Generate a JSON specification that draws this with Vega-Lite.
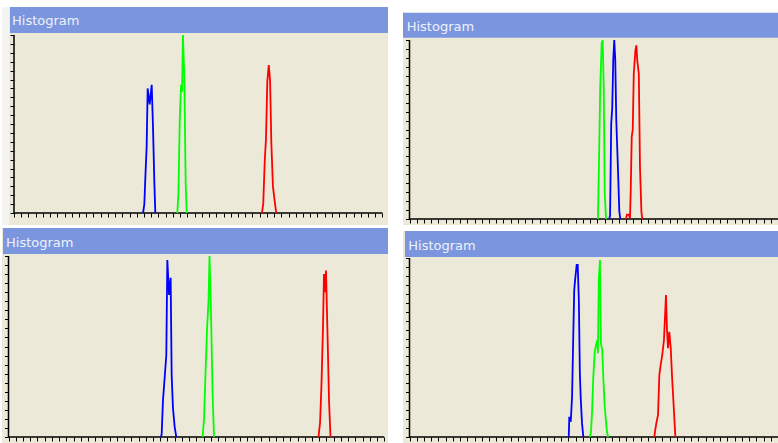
{
 "$schema": "https://vega.github.io/schema/vega-lite/v6.json",
 "background": "#ffffff",
 "padding": {"left": 2, "top": 7, "right": 0, "bottom": 0},
 "config": {"view": {"stroke": null}},
 "datasets": {
  "label": [{"title": "Histogram"}],
  "one": [{}],
  "hist": [
   {"p":"TL","c":"blue","x":89.3,"y":0},{"p":"TL","c":"blue","x":90.2,"y":5},{"p":"TL","c":"blue","x":91.1,"y":24},{"p":"TL","c":"blue","x":91.8,"y":37},{"p":"TL","c":"blue","x":92.5,"y":70},{"p":"TL","c":"blue","x":93.9,"y":61},{"p":"TL","c":"blue","x":95.3,"y":72},{"p":"TL","c":"blue","x":96.2,"y":48},{"p":"TL","c":"blue","x":97.1,"y":18},{"p":"TL","c":"blue","x":97.8,"y":0},
   {"p":"TL","c":"green","x":113.0,"y":0},{"p":"TL","c":"green","x":113.8,"y":11},{"p":"TL","c":"green","x":114.7,"y":52},{"p":"TL","c":"green","x":115.6,"y":72},{"p":"TL","c":"green","x":116.3,"y":68},{"p":"TL","c":"green","x":116.9,"y":100},{"p":"TL","c":"green","x":117.9,"y":76},{"p":"TL","c":"green","x":118.8,"y":17},{"p":"TL","c":"green","x":119.5,"y":0},
   {"p":"TL","c":"red","x":171.6,"y":0},{"p":"TL","c":"red","x":172.5,"y":5.4},{"p":"TL","c":"red","x":173.5,"y":28.8},{"p":"TL","c":"red","x":174.4,"y":42},{"p":"TL","c":"red","x":175.3,"y":73.8},{"p":"TL","c":"red","x":176.3,"y":83.1},{"p":"TL","c":"red","x":177.2,"y":74.7},{"p":"TL","c":"red","x":178.1,"y":39.1},{"p":"TL","c":"red","x":179.2,"y":14.8},{"p":"TL","c":"red","x":180.6,"y":5.4},{"p":"TL","c":"red","x":181.5,"y":0},
   {"p":"TR","c":"green","x":130.4,"y":0},{"p":"TR","c":"green","x":131.1,"y":30.2},{"p":"TR","c":"green","x":132.0,"y":73.9},{"p":"TR","c":"green","x":133.0,"y":98.1},{"p":"TR","c":"green","x":133.7,"y":100},{"p":"TR","c":"green","x":134.4,"y":73.9},{"p":"TR","c":"green","x":135.1,"y":14.4},{"p":"TR","c":"green","x":136.0,"y":0},
   {"p":"TR","c":"blue","x":138.3,"y":0},{"p":"TR","c":"blue","x":138.8,"y":2.2},{"p":"TR","c":"blue","x":139.6,"y":53.4},{"p":"TR","c":"blue","x":140.3,"y":61.8},{"p":"TR","c":"blue","x":141.0,"y":88.8},{"p":"TR","c":"blue","x":141.7,"y":100},{"p":"TR","c":"blue","x":142.4,"y":88.8},{"p":"TR","c":"blue","x":143.1,"y":55.3},{"p":"TR","c":"blue","x":144.4,"y":24.6},{"p":"TR","c":"blue","x":145.2,"y":4.1},{"p":"TR","c":"blue","x":145.9,"y":0},
   {"p":"TR","c":"red","x":149.8,"y":0},{"p":"TR","c":"red","x":150.5,"y":2.5},{"p":"TR","c":"red","x":151.7,"y":2.5},{"p":"TR","c":"red","x":152.6,"y":0.5},{"p":"TR","c":"red","x":153.1,"y":16},{"p":"TR","c":"red","x":153.8,"y":46},{"p":"TR","c":"red","x":154.5,"y":50},{"p":"TR","c":"red","x":155.2,"y":81},{"p":"TR","c":"red","x":156.3,"y":94},{"p":"TR","c":"red","x":157.0,"y":97},{"p":"TR","c":"red","x":157.7,"y":88},{"p":"TR","c":"red","x":158.7,"y":81},{"p":"TR","c":"red","x":159.5,"y":29},{"p":"TR","c":"red","x":160.5,"y":4},{"p":"TR","c":"red","x":161.1,"y":0},
   {"p":"BL","c":"blue","x":105.5,"y":0},{"p":"BL","c":"blue","x":106.0,"y":1.7},{"p":"BL","c":"blue","x":106.9,"y":20.4},{"p":"BL","c":"blue","x":108.1,"y":33.3},{"p":"BL","c":"blue","x":109.2,"y":45.3},{"p":"BL","c":"blue","x":109.9,"y":97.8},{"p":"BL","c":"blue","x":111.1,"y":78.5},{"p":"BL","c":"blue","x":112.2,"y":88},{"p":"BL","c":"blue","x":112.9,"y":34.3},{"p":"BL","c":"blue","x":113.8,"y":16},{"p":"BL","c":"blue","x":115.0,"y":5.5},{"p":"BL","c":"blue","x":116.1,"y":0},
   {"p":"BL","c":"green","x":134.3,"y":0},{"p":"BL","c":"green","x":135.3,"y":10},{"p":"BL","c":"green","x":136.3,"y":35},{"p":"BL","c":"green","x":137.4,"y":60},{"p":"BL","c":"green","x":138.4,"y":75},{"p":"BL","c":"green","x":139.1,"y":100},{"p":"BL","c":"green","x":140.1,"y":70},{"p":"BL","c":"green","x":141.2,"y":25},{"p":"BL","c":"green","x":142.2,"y":0},
   {"p":"BL","c":"red","x":214.5,"y":0},{"p":"BL","c":"red","x":215.6,"y":8},{"p":"BL","c":"red","x":216.6,"y":30},{"p":"BL","c":"red","x":217.6,"y":60},{"p":"BL","c":"red","x":218.3,"y":90},{"p":"BL","c":"red","x":219.0,"y":80},{"p":"BL","c":"red","x":219.7,"y":92},{"p":"BL","c":"red","x":220.8,"y":55},{"p":"BL","c":"red","x":221.8,"y":20},{"p":"BL","c":"red","x":222.8,"y":0},
   {"p":"BR","c":"blue","x":110.2,"y":0},{"p":"BR","c":"blue","x":110.6,"y":11.3},{"p":"BR","c":"blue","x":111.6,"y":8.5},{"p":"BR","c":"blue","x":112.5,"y":22.5},{"p":"BR","c":"blue","x":113.3,"y":55.1},{"p":"BR","c":"blue","x":114.0,"y":82.1},{"p":"BR","c":"blue","x":114.7,"y":88.6},{"p":"BR","c":"blue","x":115.7,"y":96.1},{"p":"BR","c":"blue","x":116.4,"y":96.1},{"p":"BR","c":"blue","x":117.2,"y":76.5},{"p":"BR","c":"blue","x":117.9,"y":35.6},{"p":"BR","c":"blue","x":118.5,"y":21.6},{"p":"BR","c":"blue","x":119.4,"y":7.6},{"p":"BR","c":"blue","x":120.3,"y":0},
   {"p":"BR","c":"green","x":124.9,"y":0},{"p":"BR","c":"green","x":125.6,"y":3},{"p":"BR","c":"green","x":126.3,"y":13.2},{"p":"BR","c":"green","x":127.2,"y":33.7},{"p":"BR","c":"green","x":128.2,"y":47.7},{"p":"BR","c":"green","x":129.1,"y":51.4},{"p":"BR","c":"green","x":130.0,"y":54.2},{"p":"BR","c":"green","x":130.4,"y":46.8},{"p":"BR","c":"green","x":131.0,"y":87.7},{"p":"BR","c":"green","x":131.8,"y":98.9},{"p":"BR","c":"green","x":132.5,"y":52.3},{"p":"BR","c":"green","x":133.4,"y":48.6},{"p":"BR","c":"green","x":134.1,"y":33.7},{"p":"BR","c":"green","x":135.1,"y":16.9},{"p":"BR","c":"green","x":136.5,"y":3.9},{"p":"BR","c":"green","x":137.4,"y":0},
   {"p":"BR","c":"red","x":169.4,"y":0},{"p":"BR","c":"red","x":169.9,"y":3},{"p":"BR","c":"red","x":170.8,"y":7.6},{"p":"BR","c":"red","x":172.0,"y":12.3},{"p":"BR","c":"red","x":172.9,"y":34.6},{"p":"BR","c":"red","x":173.8,"y":40.2},{"p":"BR","c":"red","x":174.9,"y":45.8},{"p":"BR","c":"red","x":176.1,"y":54.2},{"p":"BR","c":"red","x":177.5,"y":79.3},{"p":"BR","c":"red","x":178.2,"y":59.8},{"p":"BR","c":"red","x":178.9,"y":49.6},{"p":"BR","c":"red","x":179.8,"y":58.8},{"p":"BR","c":"red","x":180.8,"y":49.6},{"p":"BR","c":"red","x":181.7,"y":33.7},{"p":"BR","c":"red","x":182.6,"y":20.7},{"p":"BR","c":"red","x":183.6,"y":5.8},{"p":"BR","c":"red","x":184.0,"y":0}
  ]
 },
 "spacing": 15,
 "hconcat": [
  {
   "spacing": 3,
   "vconcat": [
    {
     "width": 386, "height": 218,
     "view": {"fill": "#ece9d8", "stroke": null},
     "encoding": {
      "x": {"type": "quantitative", "scale": {"domain": [-8.3, 258.82], "nice": false, "zero": false},
       "axis": {"orient": "bottom", "offset": -12, "values": [0,5,10,15,20,25,30,35,40,45,50,55,60,65,70,75,80,85,90,95,100,105,110,115,120,125,130,135,140,145,150,155,160,165,170,175,180,185,190,195,200,205,210,215,220,225,230,235,240,245,250,255], "labels": false, "title": null, "domain": false, "grid": false, "ticks": true, "tickColor": "#000000", "tickWidth": 1, "tickSize": 4, "encode": {"ticks": {"update": {"y2": {"signal": "datum.value % 10 === 0 ? 4 : 2"}}}}}},
      "y": {"type": "quantitative", "scale": {"domain": [-6.74, 115.73], "nice": false, "zero": false},
       "axis": {"orient": "left", "offset": -12, "values": [0,5,10,15,20,25,30,35,40,45,50,55,60,65,70,75,80,85,90,95,100], "labels": false, "title": null, "domain": false, "grid": false, "ticks": true, "tickColor": "#000000", "tickWidth": 1, "tickSize": 4, "encode": {"ticks": {"update": {"x2": {"signal": "datum.value % 10 === 0 ? -4 : -2"}}}}}}
     },
     "layer": [
      {"data": {"name": "one"}, "mark": {"type": "rect", "color": "#f4f4f0"},
       "encoding": {"x": {"datum": -8.3}, "x2": {"datum": -3.3}, "y": {"datum": -6.74}, "y2": {"datum": 115.73}}},
      {"data": {"name": "one"}, "mark": {"type": "rect", "color": "#7b96de"},
       "encoding": {"x": {"datum": -2.77}, "x2": {"datum": 258.82}, "y": {"datum": 101.12}, "y2": {"datum": 115.73}}},
      {"data": {"name": "label"}, "mark": {"type": "text", "align": "left", "baseline": "alphabetic", "font": "DejaVu Sans", "fontSize": 13, "color": "#eef2fb", "dx": 2},
       "encoding": {"text": {"field": "title"}, "x": {"datum": -2.77}, "y": {"datum": 105.6}}},
      {"data": {"name": "one"}, "mark": {"type": "rule", "color": "#000000", "strokeWidth": 1.5},
       "encoding": {"x": {"datum": 0}, "x2": {"datum": 255}, "y": {"datum": 0}}},
      {"data": {"name": "one"}, "mark": {"type": "rule", "color": "#000000", "strokeWidth": 1.5},
       "encoding": {"x": {"datum": 0}, "y": {"datum": 0}, "y2": {"datum": 100}}},
      {"data": {"name": "hist"}, "transform": [{"filter": "datum.p === 'TL'"}],
       "mark": {"type": "line", "strokeWidth": 1.8},
       "encoding": {"x": {"field": "x"}, "y": {"field": "y"},
        "color": {"field": "c", "type": "nominal", "scale": {"domain": ["blue", "green", "red"], "range": ["#0000ff", "#00ff00", "#ff0000"]}, "legend": null}}}
     ]
    },
    {
     "width": 386, "height": 215,
     "view": {"fill": "#ece9d8", "stroke": null},
     "encoding": {
      "x": {"type": "quantitative", "scale": {"domain": [-4.5, 262.6], "nice": false, "zero": false},
       "axis": {"orient": "bottom", "offset": -6, "values": [0,5,10,15,20,25,30,35,40,45,50,55,60,65,70,75,80,85,90,95,100,105,110,115,120,125,130,135,140,145,150,155,160,165,170,175,180,185,190,195,200,205,210,215,220,225,230,235,240,245,250,255,260], "labels": false, "title": null, "domain": false, "grid": false, "ticks": true, "tickColor": "#000000", "tickWidth": 1, "tickSize": 4, "encode": {"ticks": {"update": {"y2": {"signal": "datum.value % 10 === 0 ? 4 : 2"}}}}}},
      "y": {"type": "quantitative", "scale": {"domain": [-3.31, 115.47], "nice": false, "zero": false},
       "axis": {"orient": "left", "offset": -6.5, "values": [0,5,10,15,20,25,30,35,40,45,50,55,60,65,70,75,80,85,90,95,100], "labels": false, "title": null, "domain": false, "grid": false, "ticks": true, "tickColor": "#000000", "tickWidth": 1, "tickSize": 4, "encode": {"ticks": {"update": {"x2": {"signal": "datum.value % 10 === 0 ? -4 : -2"}}}}}}
     },
     "layer": [
      {"data": {"name": "one"}, "mark": {"type": "rect", "color": "#7b96de"},
       "encoding": {"x": {"datum": -3.8}, "x2": {"datum": 262.6}, "y": {"datum": 101.1}, "y2": {"datum": 115.47}}},
      {"data": {"name": "label"}, "mark": {"type": "text", "align": "left", "baseline": "alphabetic", "font": "DejaVu Sans", "fontSize": 13, "color": "#eef2fb", "dx": 3},
       "encoding": {"text": {"field": "title"}, "x": {"datum": -3.8}, "y": {"datum": 105.1}}},
      {"data": {"name": "one"}, "mark": {"type": "rule", "color": "#000000", "strokeWidth": 1.5},
       "encoding": {"x": {"datum": 0}, "x2": {"datum": 260}, "y": {"datum": 0}}},
      {"data": {"name": "one"}, "mark": {"type": "rule", "color": "#000000", "strokeWidth": 1.5},
       "encoding": {"x": {"datum": 0}, "y": {"datum": 0}, "y2": {"datum": 100}}},
      {"data": {"name": "hist"}, "transform": [{"filter": "datum.p === 'BL'"}],
       "mark": {"type": "line", "strokeWidth": 1.8},
       "encoding": {"x": {"field": "x"}, "y": {"field": "y"},
        "color": {"field": "c", "type": "nominal", "scale": {"domain": ["blue", "green", "red"], "range": ["#0000ff", "#00ff00", "#ff0000"]}, "legend": null}}}
     ]
    }
   ]
  },
  {
   "spacing": 6,
   "vconcat": [
    {
     "width": 375, "height": 218,
     "view": {"fill": "#ece9d8", "stroke": null},
     "encoding": {
      "x": {"type": "quantitative", "scale": {"domain": [-4.5, 255.02], "nice": false, "zero": false},
       "axis": {"orient": "bottom", "offset": -6, "values": [0,5,10,15,20,25,30,35,40,45,50,55,60,65,70,75,80,85,90,95,100,105,110,115,120,125,130,135,140,145,150,155,160,165,170,175,180,185,190,195,200,205,210,215,220,225,230,235,240,245,250,255], "labels": false, "title": null, "domain": false, "grid": false, "ticks": true, "tickColor": "#000000", "tickWidth": 1, "tickSize": 4, "encode": {"ticks": {"update": {"y2": {"signal": "datum.value % 10 === 0 ? 4 : 2"}}}}}},
      "y": {"type": "quantitative", "scale": {"domain": [-3.35, 118.44], "nice": false, "zero": false},
       "axis": {"orient": "left", "offset": -6.5, "values": [0,5,10,15,20,25,30,35,40,45,50,55,60,65,70,75,80,85,90,95,100], "labels": false, "title": null, "domain": false, "grid": false, "ticks": true, "tickColor": "#000000", "tickWidth": 1, "tickSize": 4, "encode": {"ticks": {"update": {"x2": {"signal": "datum.value % 10 === 0 ? -4 : -2"}}}}}}
     },
     "layer": [
      {"data": {"name": "one"}, "mark": {"type": "rect", "color": "#ffffff"},
       "encoding": {"x": {"datum": -4.5}, "x2": {"datum": 255.02}, "y": {"datum": 115.2}, "y2": {"datum": 118.44}}},
      {"data": {"name": "one"}, "mark": {"type": "rect", "color": "#7b96de"},
       "encoding": {"x": {"datum": -4.5}, "x2": {"datum": 255.02}, "y": {"datum": 101.3}, "y2": {"datum": 115.2}}},
      {"data": {"name": "label"}, "mark": {"type": "text", "align": "left", "baseline": "alphabetic", "font": "DejaVu Sans", "fontSize": 13, "color": "#eef2fb", "dx": 3.7},
       "encoding": {"text": {"field": "title"}, "x": {"datum": -4.5}, "y": {"datum": 105.2}}},
      {"data": {"name": "one"}, "mark": {"type": "rule", "color": "#000000", "strokeWidth": 1.5},
       "encoding": {"x": {"datum": 0}, "x2": {"datum": 255.02}, "y": {"datum": 0}}},
      {"data": {"name": "one"}, "mark": {"type": "rule", "color": "#000000", "strokeWidth": 1.5},
       "encoding": {"x": {"datum": 0}, "y": {"datum": 0}, "y2": {"datum": 100}}},
      {"data": {"name": "hist"}, "transform": [{"filter": "datum.p === 'TR'"}],
       "mark": {"type": "line", "strokeWidth": 1.8},
       "encoding": {"x": {"field": "x"}, "y": {"field": "y"},
        "color": {"field": "c", "type": "nominal", "scale": {"domain": ["blue", "green", "red"], "range": ["#0000ff", "#00ff00", "#ff0000"]}, "legend": null}}}
     ]
    },
    {
     "width": 375, "height": 212,
     "view": {"fill": "#ece9d8", "stroke": null},
     "encoding": {
      "x": {"type": "quantitative", "scale": {"domain": [-4.5, 255.02], "nice": false, "zero": false},
       "axis": {"orient": "bottom", "offset": -6, "values": [0,5,10,15,20,25,30,35,40,45,50,55,60,65,70,75,80,85,90,95,100,105,110,115,120,125,130,135,140,145,150,155,160,165,170,175,180,185,190,195,200,205,210,215,220,225,230,235,240,245,250,255], "labels": false, "title": null, "domain": false, "grid": false, "ticks": true, "tickColor": "#000000", "tickWidth": 1, "tickSize": 4, "encode": {"ticks": {"update": {"y2": {"signal": "datum.value % 10 === 0 ? 4 : 2"}}}}}},
      "y": {"type": "quantitative", "scale": {"domain": [-3.35, 115.08], "nice": false, "zero": false},
       "axis": {"orient": "left", "offset": -6.5, "values": [0,5,10,15,20,25,30,35,40,45,50,55,60,65,70,75,80,85,90,95,100], "labels": false, "title": null, "domain": false, "grid": false, "ticks": true, "tickColor": "#000000", "tickWidth": 1, "tickSize": 4, "encode": {"ticks": {"update": {"x2": {"signal": "datum.value % 10 === 0 ? -4 : -2"}}}}}}
     },
     "layer": [
      {"data": {"name": "one"}, "mark": {"type": "rect", "color": "#7b96de"},
       "encoding": {"x": {"datum": -3.11}, "x2": {"datum": 255.02}, "y": {"datum": 100.56}, "y2": {"datum": 115.08}}},
      {"data": {"name": "label"}, "mark": {"type": "text", "align": "left", "baseline": "alphabetic", "font": "DejaVu Sans", "fontSize": 13, "color": "#eef2fb", "dx": 3.3},
       "encoding": {"text": {"field": "title"}, "x": {"datum": -3.11}, "y": {"datum": 104.5}}},
      {"data": {"name": "one"}, "mark": {"type": "rule", "color": "#000000", "strokeWidth": 1.5},
       "encoding": {"x": {"datum": 0}, "x2": {"datum": 255.02}, "y": {"datum": 0}}},
      {"data": {"name": "one"}, "mark": {"type": "rule", "color": "#000000", "strokeWidth": 1.5},
       "encoding": {"x": {"datum": 0}, "y": {"datum": 0}, "y2": {"datum": 100}}},
      {"data": {"name": "hist"}, "transform": [{"filter": "datum.p === 'BR'"}],
       "mark": {"type": "line", "strokeWidth": 1.8},
       "encoding": {"x": {"field": "x"}, "y": {"field": "y"},
        "color": {"field": "c", "type": "nominal", "scale": {"domain": ["blue", "green", "red"], "range": ["#0000ff", "#00ff00", "#ff0000"]}, "legend": null}}}
     ]
    }
   ]
  }
 ]
}
